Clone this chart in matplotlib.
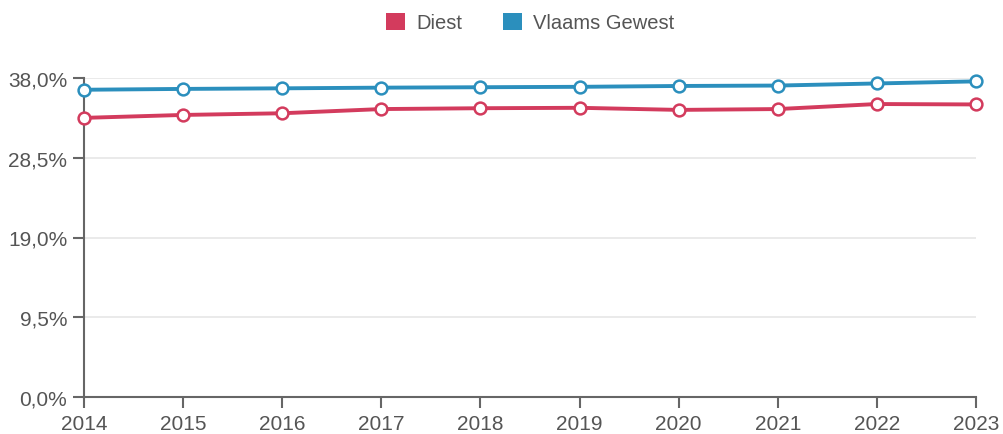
import matplotlib
matplotlib.use("Agg")
import matplotlib.pyplot as plt
from matplotlib.ticker import FuncFormatter
from matplotlib.patches import Patch

plt.rcParams['font.family'] = ['Liberation Sans', 'DejaVu Sans']

years = [2014, 2015, 2016, 2017, 2018, 2019, 2020, 2021, 2022, 2023]
diest = [33.25, 33.6, 33.8, 34.3, 34.4, 34.45, 34.2, 34.3, 34.9, 34.85]
vlaams = [36.6, 36.7, 36.77, 36.85, 36.9, 36.95, 37.05, 37.1, 37.35, 37.6]
yticks = [0.0, 9.5, 19.0, 28.5, 38.0]

c_diest = '#d33b5d'
c_vl = '#2b8fbd'
axis_col = '#666666'
text_col = '#555555'

fig = plt.figure(figsize=(10.04, 4.35), dpi=100)
ax = fig.add_axes([84/1004, 37/435, 892/1004, 319/435])

for vals, col, lab in [(diest, c_diest, 'Diest'), (vlaams, c_vl, 'Vlaams Gewest')]:
    ax.plot(years, vals, color=col, lw=2.8, marker='o', ms=8.5, mfc='white',
            mec=col, mew=1.8, zorder=3, clip_on=False, label=lab)

ax.set_xlim(2014, 2023)
ax.set_ylim(0, 38)
ax.set_yticks(yticks)
ax.set_xticks(years)
ax.yaxis.set_major_formatter(FuncFormatter(lambda v, p: f"{v:.1f}%".replace('.', ',')))
ax.grid(axis='y', color='#e6e6e6', lw=1.2)
ax.set_axisbelow(True)
for s in ['top', 'right']:
    ax.spines[s].set_visible(False)
for s in ['left', 'bottom']:
    ax.spines[s].set_color(axis_col)
    ax.spines[s].set_linewidth(1.5)
ax.tick_params(axis='both', colors=axis_col, labelcolor=text_col, labelsize=15,
               length=8, width=1.5, direction='out')
ax.tick_params(axis='y', pad=4)
ax.tick_params(axis='x', pad=4)

handles = [Patch(facecolor=c_diest, label='Diest'), Patch(facecolor=c_vl, label='Vlaams Gewest')]
fig.legend(handles=handles, loc='upper center', bbox_to_anchor=(0.528, 1.01), ncol=2,
           frameon=False, fontsize=14.5, handlelength=0.95, handleheight=0.95,
           columnspacing=2.0, handletextpad=0.55, labelcolor=text_col)

fig.savefig('out.png', dpi=100)
